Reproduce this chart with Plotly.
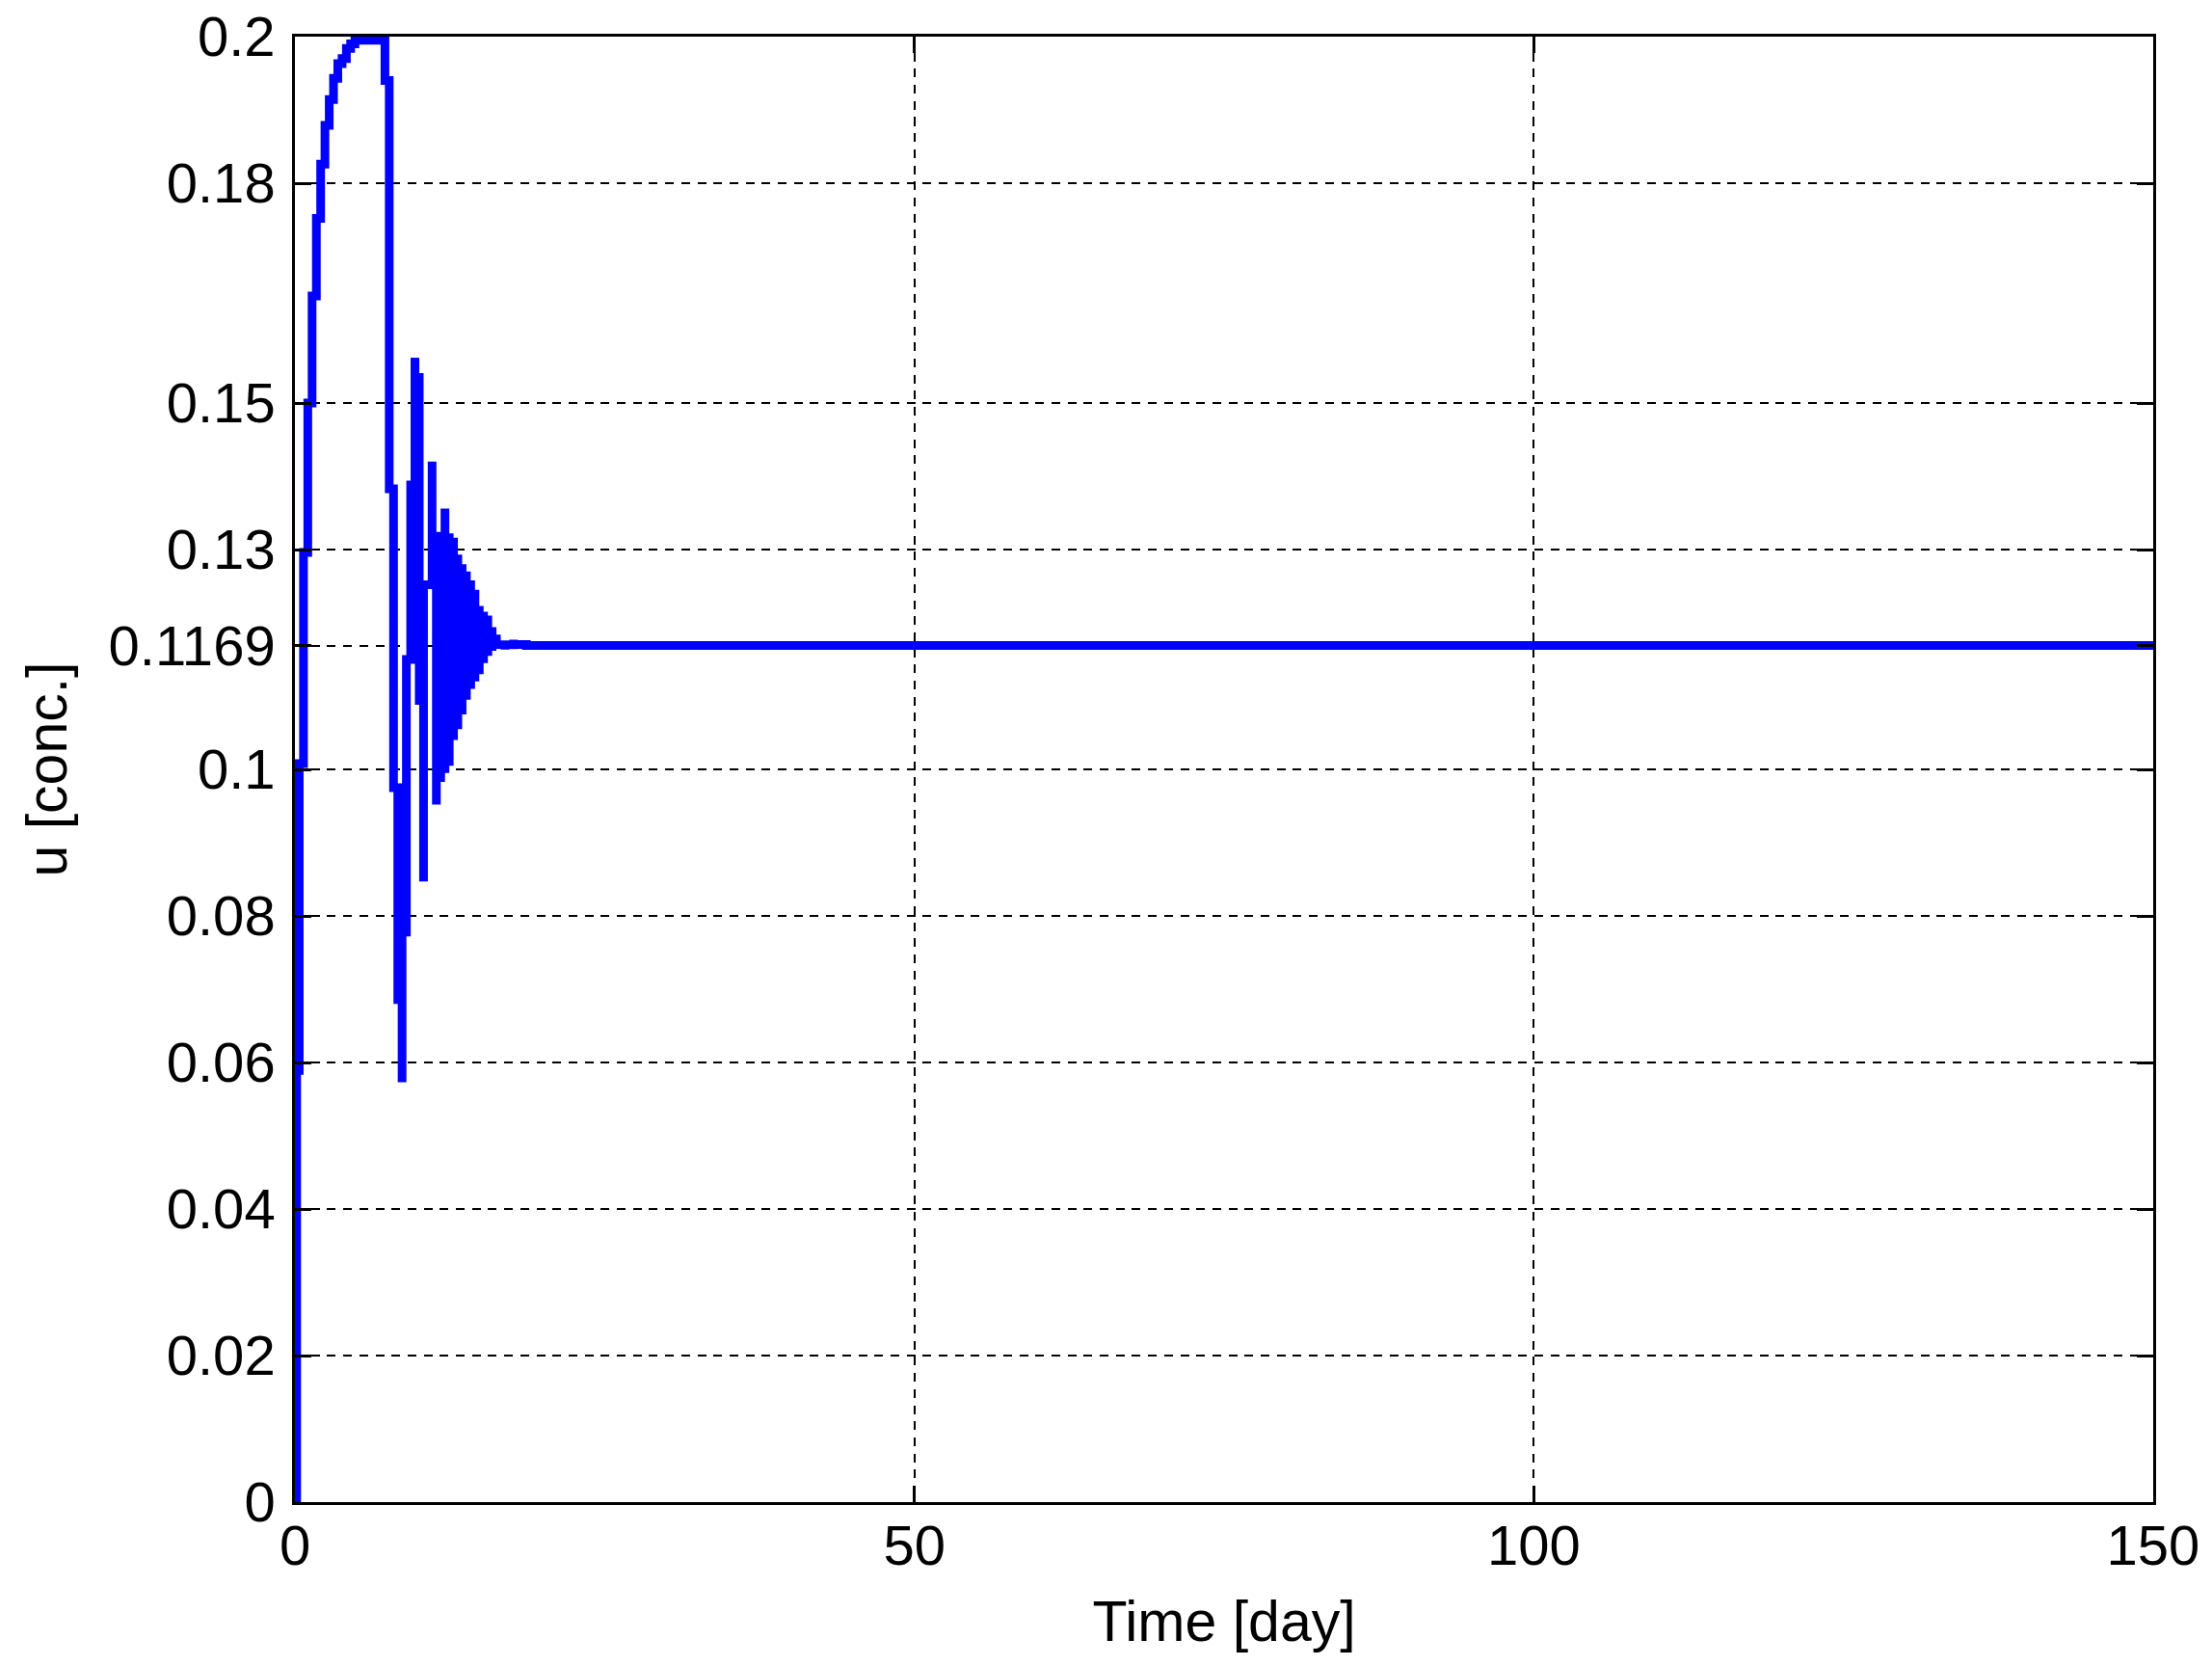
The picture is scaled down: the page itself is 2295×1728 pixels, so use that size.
import plotly.graph_objects as go

# ---------------- data ----------------
Ts = 0.346            # controller sampling period [day]
t_first_step = 0.14   # time of first jump from 0
t_end = 150.0
u_steady = 0.1169

# held value after each sample k = 0..32 (zero-order hold)
u_hold = [0.0589, 0.1008, 0.1296, 0.1500, 0.1646, 0.1752, 0.1826, 0.1879, 0.1914, 0.1943,
          0.1963, 0.1970, 0.1984, 0.1990, 0.1995, 0.1995, 0.1995, 0.1995, 0.1995, 0.1995,
          0.1995, 0.1940, 0.1383, 0.0975, 0.0686, 0.0778, 0.1150, 0.1388, 0.1535, 0.1094,
          0.1252, 0.1252, 0.1318]
# short excursions inside a sample before settling
spike_k = [25, 28, 30, 32]
spike_u = [0.0573, 0.1562, 0.0847, 0.1420]

# chattering phase, samples k = 33..53: upper and lower extremes
chat_k0 = 33
chat_hi = [0.1318, 0.1300, 0.1356, 0.1322, 0.1316, 0.1293, 0.1280, 0.1270, 0.1258, 0.1245,
           0.1223, 0.1215, 0.1210, 0.1194, 0.1176, 0.1174, 0.1174, 0.1173, 0.1174, 0.1173, 0.1172]
chat_lo = [0.0952, 0.0983, 0.0995, 0.1005, 0.1040, 0.1055, 0.1075, 0.1095, 0.1110, 0.1120,
           0.1130, 0.1145, 0.1155, 0.1162, 0.1165, 0.1165, 0.1166, 0.1167, 0.1168, 0.1168, 0.1169]

y_tickvals = [0, 0.02, 0.04, 0.06, 0.08, 0.1, 0.1169, 0.13, 0.15, 0.18, 0.2]
y_ticktext = ["0", "0.02", "0.04", "0.06", "0.08", "0.1", "0.1169", "0.13", "0.15", "0.18", "0.2"]
x_tickvals = [0, 50, 100, 150]

# ---------------- build the staircase path ----------------
T = [0.0, t_first_step, t_first_step]
U = [0.0, 0.0, u_hold[0]]
for k in range(1, len(u_hold)):
    tk = k * Ts
    T.append(tk); U.append(U[-1])
    if k in spike_k:
        T.append(tk); U.append(spike_u[spike_k.index(k)])
    T.append(tk); U.append(u_hold[k])
for j, (hi, lo) in enumerate(zip(chat_hi, chat_lo)):
    tk = (chat_k0 + j) * Ts
    T.append(tk); U.append(U[-1])
    T += [tk, tk, tk]
    U += [hi, lo, (hi + lo) / 2]
tk = (chat_k0 + len(chat_hi)) * Ts
T += [tk, tk, t_end]
U += [U[-1], u_steady, u_steady]

fig = go.Figure()
fig.add_trace(go.Scatter(x=T, y=U, mode="lines",
                         line=dict(color="#0000FF", width=9, simplify=False),
                         hoverinfo="skip", showlegend=False))

FONT = "Liberation Sans, Arial, sans-serif"
axis_common = dict(
    showline=True, linecolor="black", linewidth=2.5, mirror="ticks",
    ticks="inside", ticklen=17, tickwidth=2.5, tickcolor="black",
    showgrid=True, gridcolor="black", gridwidth=2.2, griddash="9px,7.7px",
    zeroline=False, automargin=False, ticklabeloverflow="allow",
    tickfont=dict(family=FONT, size=58, color="black"),
)

fig.update_layout(
    width=2295, height=1728,
    margin=dict(l=306, r=61, t=38, b=170),
    plot_bgcolor="white", paper_bgcolor="white",
    font=dict(family=FONT, color="black"),
    showlegend=False,
    xaxis=dict(range=[0, 150], tickvals=x_tickvals, ticklabelstandoff=-7,
               title=dict(text="Time [day]", font=dict(family=FONT, size=59), standoff=27),
               **axis_common),
    yaxis=dict(range=[0, 0.2], tickvals=y_tickvals, ticktext=y_ticktext, ticklabelstandoff=6,
               title=dict(text="u [conc.]", font=dict(family=FONT, size=59), standoff=24),
               **axis_common),
)

# remove the default 8 px page margin so the figure fills the window exactly
fig.write_html("out.html", config={"displayModeBar": False},
               post_script="document.body.style.margin='0';")
